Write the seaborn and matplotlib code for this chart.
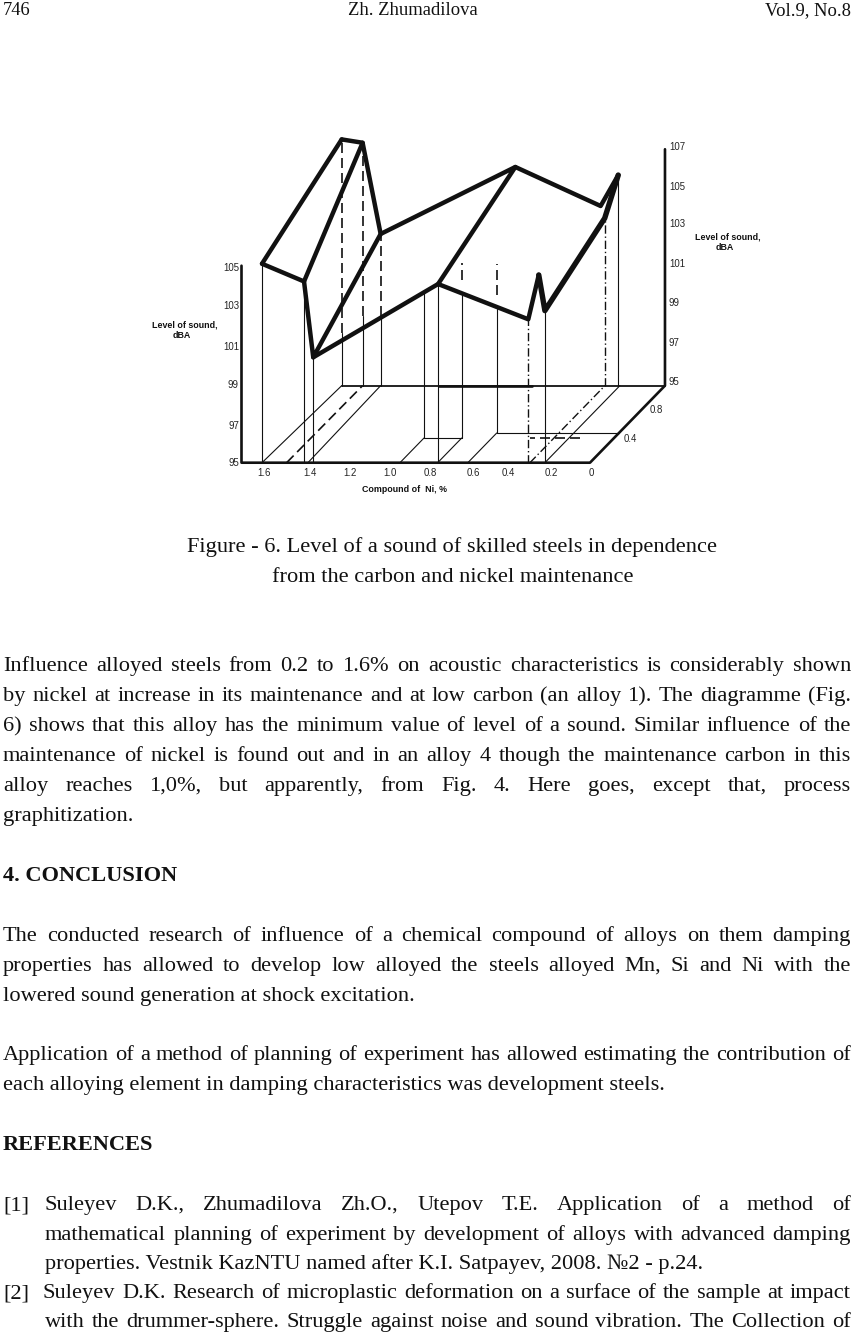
import matplotlib
matplotlib.use("Agg")
import matplotlib.pyplot as plt
import pandas as pd
import seaborn as sns

# ---------- chart data ----------
# thick surface nodes: (Ni %, C %, level dBA)
NODE_NAMES = list("ABCDEFHGIJKMLN")
NI_NODES = [1.60, 1.395, 1.35, 1.577, 1.475, 1.387, 0.741, 0.73, 0.301, 0.25, 0.22, 0.314, 0.228, 0.294]
C_NODES = [0, 0, 0, 1.03, 1.03, 1.03, 0, 1.03, 0, 0, 0, 1.03, 1.03, 1.03]
LEVEL_NODES = [105.1, 104.2, 100.35, 107.5, 107.33, 102.7, 104.07, 106.1, 102.28, 104.53, 102.72, 104.12, 105.69, 103.5]
THICK_PATHS = ["ABCFED", "AD", "EB", "FGHC", "HIJ", "GML"]
HEAVY_PATHS = ["JKNL"]

# thin uprights: (Ni, C, from level, to level)
SOLID_UP = [(1.60, 0, 95, 105.1), (1.395, 0, 95, 104.2), (1.35, 0, 95, 100.35), (0.741, 0, 95, 104.07),
            (0.22, 0, 95, 102.72), (1.577, 1.03, 95, 97.67), (1.475, 1.03, 95, 98.53), (1.387, 1.03, 95, 98.53),
            (0.927, 0.33, 95, 102.4), (0.743, 0.33, 95, 102.3), (0.596, 0.397, 95, 101.3), (0.228, 1.03, 95, 105.69)]
DASHED_UP = [(1.577, 1.03, 97.67, 107.5), (1.475, 1.03, 98.53, 107.33), (1.387, 1.03, 98.53, 102.7),
             (0.743, 0.33, 103.0, 103.9), (0.596, 0.397, 102.0, 103.6)]
DASHDOT_UP = [(0.301, 0, 95, 102.28), (0.294, 1.03, 95, 103.5)]
# thin floor lines: (Ni, C, Ni, C)
SOLID_FLOOR = [(1.60, 0, 1.577, 1.03), (1.376, 0, 1.387, 1.03), (0.927, 0, 0.927, 0.33), (0.743, 0, 0.743, 0.33),
               (0.596, 0, 0.596, 0.397), (0.927, 0.33, 0.743, 0.33), (0.596, 0.397, 0, 0.397), (0.22, 0, 0.22, 1.03)]
DASHED_FLOOR = [(1.48, 0, 1.475, 1.03), (0.166, 0.33, 0.41, 0.33)]
DASHDOT_FLOOR = [(0.293, 0, 0.293, 1.03)]

NI_TICKS = ["1.6", "1.4", "1.2", "1.0", "0.8", "0.6", "0.4", "0.2", "0"]
C_TICKS = ["0.4", "0.8"]
LEFT_TICKS = [105, 103, 101, 99, 97, 95]
RIGHT_TICKS = [107, 105, 103, 101, 99, 97, 95]

# ---------- page text ----------
CAPTION = ["Figure - 6. Level of a sound of skilled steels in dependence",
           "from the carbon and nickel maintenance"]
BODY = [
 ("Influence alloyed steels from 0.2 to 1.6% on acoustic characteristics is considerably shown", 671, 3, 851, False),
 ("by nickel at increase in its maintenance and at low carbon (an alloy 1). The diagramme (Fig.", 701, 3, 851, False),
 ("6) shows that this alloy has the minimum value of level of a sound. Similar influence of the", 731, 3, 851, False),
 ("maintenance of nickel is found out and in an alloy 4 though the maintenance carbon in this", 761, 3, 851, False),
 ("alloy reaches 1,0%, but apparently, from Fig. 4. Here goes, except that, process", 791, 3, 851, False),
 ("graphitization.", 821, 3, None, False),
 ("4. CONCLUSION", 881, 3, None, True),
 ("The conducted research of influence of a chemical compound of alloys on them damping", 941, 3, 851, False),
 ("properties has allowed to develop low alloyed the steels alloyed Mn, Si and Ni with the", 971, 3, 851, False),
 ("lowered sound generation at shock excitation.", 1001, 3, None, False),
 ("Application of a method of planning of experiment has allowed estimating the contribution of", 1060, 3, 851, False),
 ("each alloying element in damping characteristics was development steels.", 1090, 3, None, False),
 ("REFERENCES", 1150, 3, None, True),
 ("[1]", 1210, 3, None, False),
 ("Suleyev D.K., Zhumadilova Zh.O., Utepov T.E.  Application of a method of", 1210, 45, 851, False),
 ("mathematical planning of experiment by development of alloys with advanced damping", 1240, 45, 851, False),
 ("properties. Vestnik KazNTU named after K.I. Satpayev, 2008. №2 - p.24.", 1269, 45, None, False),
 ("[2]", 1298, 3, None, False),
 ("Suleyev D.K. Research of microplastic deformation on a surface of the sample at impact", 1298, 43, 851, False),
 ("with the drummer-sphere. Struggle against noise and sound vibration. The Collection of", 1327, 45, 851, False),
]

W, H = 854, 1334
sns.set_theme(style="white")
SERIF = ["Liberation Serif", "DejaVu Serif"]
SANS = ["Liberation Sans", "DejaVu Sans"]
fig = plt.figure(figsize=(W / 100, H / 100), dpi=100, facecolor="white")
ax = fig.add_axes([0, 0, 1, 1])
ax.set_xlim(0, W)
ax.set_ylim(H, 0)
ax.axis("off")

# oblique projection of (Ni, C, level) onto the page
NI_PX, C_DX, C_DY, DB_PX, X0, Y0 = 205, 72.8, 74.8, 19.7, 590, 462.7


def px(ni, c):
    return X0 - NI_PX * ni + C_DX * c


def py(c, lev):
    return Y0 - C_DY * c - DB_PX * (lev - 95)


def segs_df(segs):
    rows = []
    for k, pts in enumerate(segs):
        for o, (ni, c, lev) in enumerate(pts):
            rows.append({"x": px(ni, c), "y": py(c, lev), "seg": k, "o": o})
    return pd.DataFrame(rows)


def draw(segs, lw, ls="-", color="#111111"):
    if not segs:
        return
    d = segs_df(segs)
    sns.lineplot(data=d, x="x", y="y", units="seg", estimator=None, sort=False, ax=ax,
                 color=color, lw=lw, ls=ls, solid_joinstyle="round", solid_capstyle="round",
                 legend=False)


def ups(rows):
    return [[(n, c, a), (n, c, b)] for n, c, a, b in rows]


def floors(rows):
    return [[(n1, c1, 95), (n2, c2, 95)] for n1, c1, n2, c2 in rows]


draw(ups(SOLID_UP) + floors(SOLID_FLOOR), 0.8)
draw(ups(DASHED_UP) + floors(DASHED_FLOOR), 1.2, (0, (6, 3)))
draw(ups(DASHDOT_UP) + floors(DASHDOT_FLOOR), 1.0, (0, (6, 2, 1, 2)))

# frame
draw([[(1.70, 0, 105), (1.70, 0, 95), (0, 0, 95), (0, 1.03, 95), (0, 1.03, 107)]], 1.9)
draw([[(0, 1.03, 95), (1.577, 1.03, 95)]], 1.3)
draw([[(0.65, 1.03, 95), (1.1, 1.03, 95)]], 1.9)

# surface
nodes = {n: (NI_NODES[i], C_NODES[i], LEVEL_NODES[i]) for i, n in enumerate(NODE_NAMES)}
draw([[nodes[ch] for ch in path] for path in THICK_PATHS], 3.2)
draw([[nodes[ch] for ch in path] for path in HEAVY_PATHS], 3.9)

# tick labels
tk = dict(family=SANS, fontsize=6.9, color="#222222", va="center")
for lev, y in zip(LEFT_TICKS, [268, 305.7, 346.7, 385, 426, 463]):
    ax.text(239, y, str(lev), ha="right", **tk)
for lev, y in zip(RIGHT_TICKS, [147, 186.7, 224, 264, 303, 343, 381.7]):
    ax.text(669, y, str(lev), ha="left", **tk)
for lab, x in zip(NI_TICKS, [264, 310, 350, 390, 430.7, 473, 508, 551.7, 591]):
    ax.text(x, 473, lab, ha="center", **tk)
for lab, (x, y) in zip(C_TICKS, [(630, 439), (656, 410)]):
    ax.text(x, y, lab, ha="center", **tk)

lab = dict(family=SANS, fontsize=6.4, color="#111111", va="center", ha="center", fontweight="bold")
ax.text(185, 325, "Level of sound,", **lab)
ax.text(182, 335.5, "dBA", **lab)
ax.text(728, 237, "Level of sound,", **lab)
ax.text(725, 247.5, "dBA", **lab)
ax.text(405, 489, "Compound of  Ni, %", **lab)

# page text
FS = 16.15
tx = dict(family=SERIF, fontsize=FS, color="#111111", va="baseline")
hd = {**tx, "fontsize": 13.4}
ax.text(3, 15, "746", ha="left", **hd)
ax.text(413, 15, "Zh. Zhumadilova", ha="center", **hd)
ax.text(851, 15, "Vol.9, No.8", ha="right", **hd)
ax.text(452.5, 552, CAPTION[0], ha="center", **tx)
ax.text(452.5, 582, CAPTION[1], ha="center", **tx)

fig.canvas.draw()
rend = fig.canvas.get_renderer()


def justified(s, y, x0, x1, bold):
    w = "bold" if bold else "normal"
    if x1 is None:
        ax.text(x0, y, s, ha="left", fontweight=w, **tx)
        return
    words = s.split()
    sizes = []
    for wd in words:
        t = ax.text(0, 0, wd, fontweight=w, **tx)
        sizes.append(t.get_window_extent(rend).width)
        t.remove()
    gap = (x1 - x0 - sum(sizes)) / max(len(words) - 1, 1)
    x = x0
    for wd, sz in zip(words, sizes):
        ax.text(x, y, wd, ha="left", fontweight=w, **tx)
        x += sz + gap


for s, y, x0, x1, bold in BODY:
    justified(s, y, x0, x1, bold)

fig.savefig("out.png", dpi=100, facecolor="white")
